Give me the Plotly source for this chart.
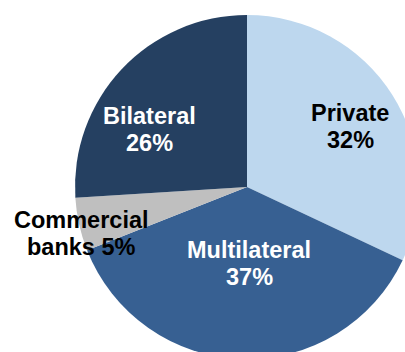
import plotly.graph_objects as go

# Composition of external debt by creditor type (%)
creditors = ["Private", "Multilateral", "Commercial banks", "Bilateral"]
shares = [32, 37, 5, 26]
label_lines = [["Private"], ["Multilateral"], ["Commercial", "banks"], ["Bilateral"]]
colors = ["#BDD7EE", "#376092", "#BFBFBF", "#254061"]
text_colors = ["#000000", "#FFFFFF", "#000000", "#FFFFFF"]

# Figure geometry (pixels)
W, H = 425, 360
ML, MR, MT, MB = 75, 6, 15, 1
PW, PH = W - ML - MR, H - MT - MB

# Label anchor per slice: horizontal centre, first-line centre (pixels)
label_pos = [(350, 113), (249, 250), (81, 220), (149, 116)]
LINE_GAP = 27
FONT_SIZE = 23.5


def to_paper(px, py):
    return (px - ML) / PW, 1 - (py - MT) / PH


fig = go.Figure(
    go.Pie(
        labels=creditors,
        values=shares,
        sort=False,
        direction="clockwise",
        rotation=0,
        marker=dict(colors=colors, line=dict(width=0)),
        textinfo="none",
        hoverinfo="label+percent",
        showlegend=False,
    )
)

annotations = []
for lines, v, (px, py), tc in zip(label_lines, shares, label_pos, text_colors):
    if len(lines) == 1:
        rows = [lines[0], f"{v}%"]
    else:
        rows = [lines[0], f"{lines[1]} {v}%"]
    for i, row in enumerate(rows):
        x, y = to_paper(px, py + i * LINE_GAP)
        annotations.append(
            dict(
                x=x, y=y, xref="paper", yref="paper",
                xanchor="center", yanchor="middle",
                text=f"<b>{row}</b>", showarrow=False, align="center",
                font=dict(family="Liberation Sans, Arial, sans-serif",
                          size=FONT_SIZE, color=tc),
            )
        )

fig.update_layout(
    width=W, height=H,
    margin=dict(l=ML, r=MR, t=MT, b=MB, autoexpand=False),
    paper_bgcolor="white",
    plot_bgcolor="white",
    annotations=annotations,
)

fig.write_html(
    "out.html",
    post_script="document.documentElement.style.overflow='hidden';document.body.style.overflow='hidden';document.body.style.margin='0';",
)
